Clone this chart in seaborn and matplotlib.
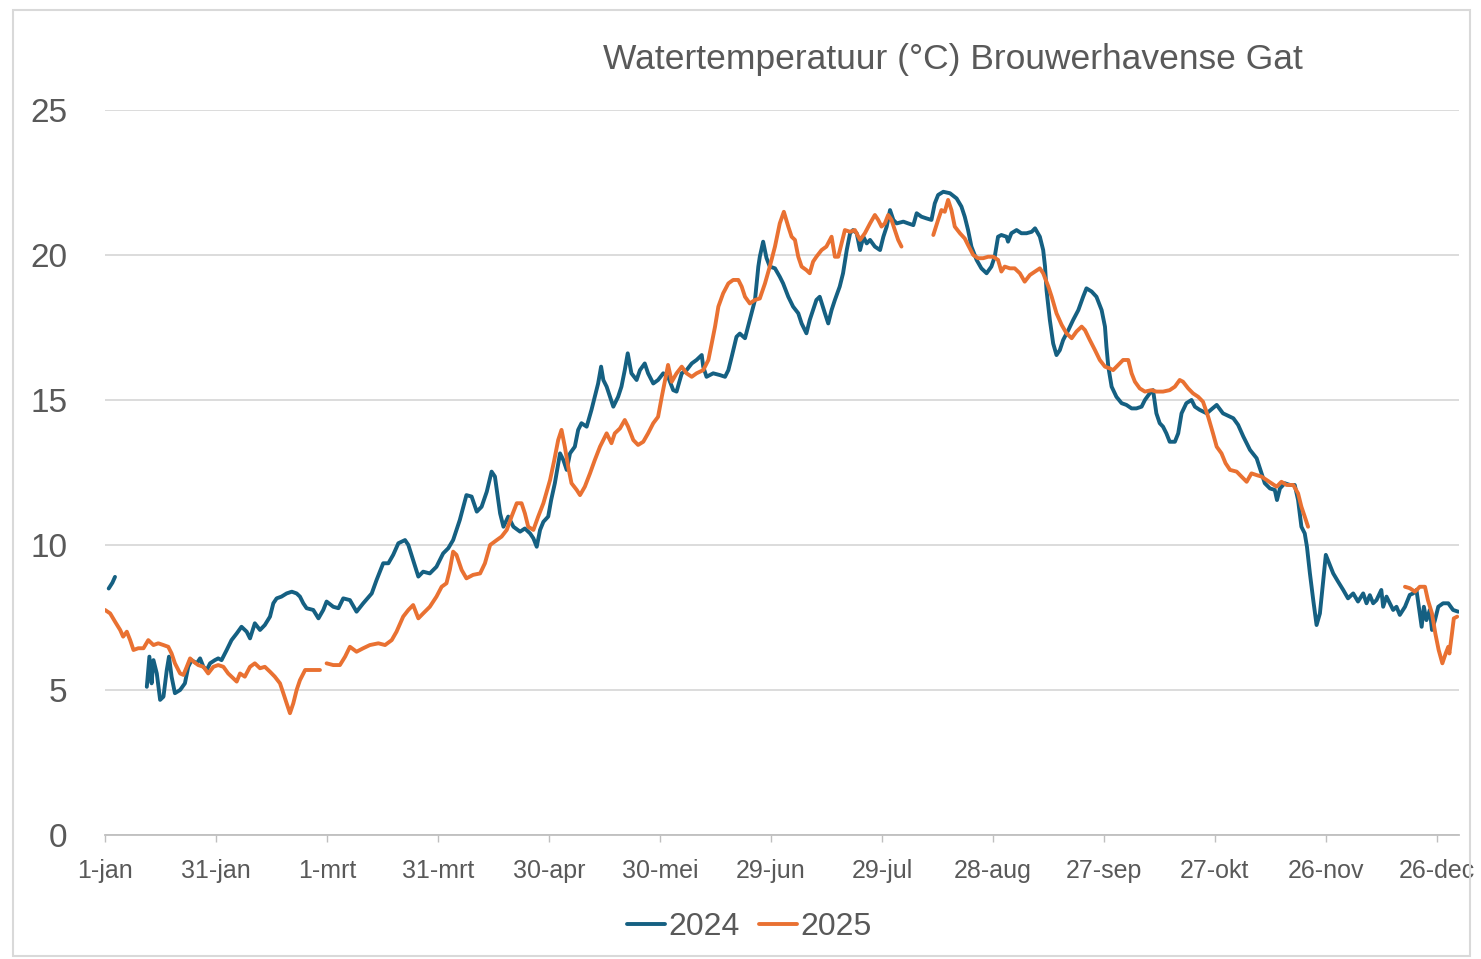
import numpy as np
import pandas as pd
import seaborn as sns
import matplotlib.pyplot as plt
from matplotlib.patches import Rectangle

nan = np.nan

# day of year (0 = 1-jan) and water temperature, nan = gap in the data
day_2024 = [1.0, 2.0, 2.7, nan,
            11.3, 12.0, 12.6, 13.1, 14.0, 14.9, 15.8, 16.7, 17.3, 18.0, 18.9, 20.3, 21.6, 22.5, 23.4, 24.8,
            25.7, 26.6, 27.5, 28.4, 29.7, 30.6, 31.5, 32.9, 34.2, 35.6, 36.9, 38.3, 39.2, 40.5, 41.9, 43.2,
            44.6, 45.5, 46.4, 47.7, 49.1, 50.5, 51.8, 52.7, 53.6, 54.5, 56.3, 57.7, 59.0, 59.9, 61.7, 63.1,
            64.4, 66.2, 68.0, 69.8, 72.1, 73.4, 75.2, 76.6, 77.9, 79.3, 81.1, 82.0, 83.3, 84.7, 86.0, 87.8,
            89.6, 91.4, 92.8, 94.1, 95.9, 97.7, 99.1, 100.5, 101.8, 103.2, 104.5, 105.4, 106.8, 107.7, 109.0,
            110.4, 112.2, 113.5, 114.9, 115.8, 116.7, 117.6, 118.5, 119.8, 120.6, 121.6, 123.0, 123.9, 124.8,
            125.7, 127.0, 127.9, 128.8, 130.2, 131.5, 132.4, 133.3, 134.1, 134.7, 135.6, 136.5, 137.4, 138.7,
            139.6, 140.5, 141.3, 142.3, 143.7, 144.6, 145.9, 146.8, 148.2, 149.5, 150.9, 152.2, 153.6, 154.5,
            155.9, 157.2, 158.6, 159.9, 161.3, 161.7, 162.6, 164.4, 166.2, 167.6, 168.5, 169.4, 170.7, 171.6,
            173.0, 174.3, 175.7, 176.6, 177.0, 177.9, 178.8, 179.7, 181.1, 182.4, 183.3, 184.7, 186.0, 187.4,
            188.3, 189.6, 190.5, 191.4, 192.3, 193.2, 194.6, 195.5, 196.4, 197.3, 198.6, 199.5, 200.5, 201.4,
            202.2, 203.2, 204.1, 205.0, 205.9, 206.8, 208.1, 209.5, 210.4, 211.3, 212.2, 213.1, 214.0, 215.8,
            217.1, 218.5, 219.4, 220.7, 222.1, 223.4, 224.3, 225.2, 226.6, 228.4, 230.2, 231.5, 232.4, 233.3,
            234.2, 235.6, 236.9, 238.3, 239.6, 240.5, 241.4, 242.3, 243.7, 244.1, 245.0, 246.4, 247.7, 249.1,
            250.5, 251.4, 252.7, 253.6, 254.1, 254.5, 255.4, 256.3, 257.2, 258.1, 259.0, 260.4, 261.7, 263.1,
            264.4, 265.3, 266.7, 268.0, 269.4, 270.3, 270.7, 271.2, 272.1, 273.4, 274.8, 276.1, 277.5, 278.8,
            280.2, 281.1, 282.4, 283.3, 284.2, 285.1, 286.0, 286.9, 287.8, 289.2, 290.1, 291.0, 292.3, 293.7,
            294.6, 295.9, 297.8, 300.5, 302.2, 305.0, 306.3, 307.7, 309.5, 311.3, 312.2, 313.5, 314.9, 316.2,
            316.8, 317.6, 318.9, 320.3, 321.6, 322.5, 323.4, 324.3, 324.9, 325.7, 326.6, 327.5, 328.4, 329.3,
            330.0, 331.1, 332.0, 333.3, 334.7, 336.0, 337.4, 338.7, 340.1, 341.0, 341.9, 342.8, 343.7, 345.0,
            345.5, 346.4, 347.3, 348.2, 349.1, 350.0, 351.4, 352.7, 353.6, 354.5, 355.4, 355.9, 356.5, 357.2,
            358.1, 358.7, 359.5, 360.4, 361.7, 363.1, 364.4, 365.8]
temp_2024 = [8.5, 8.7, 8.9, nan,
             5.11, 6.15, 5.23, 6.03, 5.57, 4.66, 4.77, 5.69, 6.15, 5.46, 4.89, 5.0, 5.23, 5.8, 6.03, 5.92,
             6.09, 5.8, 5.69, 5.92, 6.03, 6.09, 6.03, 6.38, 6.72, 6.95, 7.18, 7.01, 6.78, 7.3, 7.07, 7.24,
             7.53, 7.99, 8.16, 8.22, 8.33, 8.39, 8.33, 8.22, 7.99, 7.82, 7.76, 7.47, 7.76, 8.05, 7.87, 7.82,
             8.16, 8.1, 7.7, 7.99, 8.33, 8.79, 9.37, 9.37, 9.66, 10.06, 10.17, 10.0, 9.48, 8.91, 9.08, 9.02,
             9.25, 9.71, 9.89, 10.17, 10.86, 11.72, 11.67, 11.15, 11.32, 11.84, 12.53, 12.36, 11.09, 10.63, 10.98,
             10.63, 10.46, 10.57, 10.4, 10.23, 9.94, 10.52, 10.8, 10.98, 11.55, 12.13, 13.16, 12.93, 12.59,
             13.16, 13.39, 13.97, 14.2, 14.08, 14.66, 15.11, 15.57, 16.15, 15.69, 15.46, 15.11, 14.77, 15.11,
             15.46, 16.03, 16.61, 15.92, 15.69, 16.03, 16.26, 15.92, 15.57, 15.69, 15.92, 15.8, 15.34, 15.29,
             15.92, 16.03, 16.26, 16.38, 16.55, 16.15, 15.8, 15.92, 15.86, 15.8, 16.03, 16.49, 17.18, 17.29,
             17.13, 17.76, 18.45, 19.6, 19.94, 20.46, 19.9, 19.6, 19.54, 19.25, 19.02, 18.56, 18.22, 17.99,
             17.64, 17.3, 17.76, 18.1, 18.45, 18.56, 17.99, 17.64, 18.1, 18.45, 18.91, 19.37, 20.17, 20.75,
             20.86, 20.75, 20.17, 20.63, 20.4, 20.52, 20.29, 20.17, 20.63, 20.98, 21.55, 21.21, 21.09, 21.15,
             21.09, 21.03, 21.44, 21.32, 21.26, 21.21, 21.78, 22.07, 22.18, 22.13, 21.95, 21.67, 21.32, 20.86,
             20.29, 19.83, 19.54, 19.37, 19.6, 19.94, 20.63, 20.69, 20.63, 20.46, 20.75, 20.86, 20.75, 20.75,
             20.8, 20.92, 20.63, 20.17, 19.6, 18.79, 17.76, 16.95, 16.55, 16.72, 17.07, 17.41, 17.76, 18.1,
             18.56, 18.85, 18.74, 18.56, 18.1, 17.53, 16.84, 16.15, 15.46, 15.11, 14.89, 14.83, 14.71, 14.71,
             14.77, 15.0, 15.23, 15.34, 14.54, 14.2, 14.08, 13.85, 13.56, 13.56, 13.85, 14.54, 14.89, 15.0,
             14.77, 14.66, 14.54, 14.83, 14.54, 14.37, 14.14, 13.74, 13.28, 12.99, 12.64, 12.13, 11.95, 11.9,
             11.55, 11.95, 12.13, 12.07, 12.07, 11.55, 10.63, 10.4, 9.94, 9.02, 8.1, 7.24, 7.64, 8.79,
             9.66, 9.31, 9.02, 8.74, 8.45, 8.16, 8.33, 8.05, 8.33, 7.99, 8.27, 7.99, 8.1, 8.45,
             7.87, 8.22, 7.99, 7.76, 7.87, 7.59, 7.87, 8.28, 8.33, 8.45, 7.64, 7.18, 7.87, 7.41,
             7.76, 7.07, 7.41, 7.87, 7.99, 7.99, 7.76, 7.7]

day_2025 = [0.0, 1.4, 2.7, 4.1, 4.9, 5.9, 6.8, 7.7, 9.0, 10.4, 11.7, 13.1, 14.4, 15.8, 17.1, 18.0, 18.9,
            20.3, 21.2, 22.1, 23.0, 23.9, 25.2, 26.6, 27.9, 29.3, 30.6, 32.0, 33.3, 34.7, 35.6, 36.5, 37.8,
            39.2, 40.5, 41.9, 43.2, 44.6, 45.9, 47.3, 48.2, 49.1, 50.0, 50.9, 51.8, 52.7, 54.1, 55.4, 56.8,
            58.1, nan,
            59.9, 61.7, 63.5, 64.9, 66.2, 68.0, 69.8, 71.6, 73.9, 75.7, 77.5, 78.8, 80.6, 82.0, 83.3, 84.7,
            86.0, 87.8, 89.6, 91.0, 92.3, 93.2, 94.1, 95.0, 96.4, 97.7, 99.5, 101.4, 102.7, 104.1, 105.9,
            107.2, 108.6, 109.9, 111.3, 112.6, 113.5, 114.4, 115.8, 117.1, 118.5, 120.3, 121.4, 122.5, 123.4,
            124.3, 125.2, 126.1, 127.5, 128.4, 129.7, 131.1, 132.4, 133.8, 135.6, 136.9, 137.8, 139.2, 140.5,
            141.4, 142.8, 144.1, 145.5, 146.8, 148.2, 149.5, 150.5, 151.4, 152.2, 153.2, 154.5, 155.9, 157.2,
            158.6, 159.9, 161.7, 163.1, 164.0, 164.9, 165.8, 167.1, 168.5, 169.8, 171.2, 172.1, 173.0, 174.3,
            175.7, 177.0, 178.4, 179.7, 181.1, 182.4, 183.5, 184.7, 185.6, 186.5, 187.4, 188.3, 189.6, 190.5,
            191.4, 192.3, 193.7, 195.0, 196.4, 197.3, 198.2, 199.1, 200.0, 201.4, 202.7, 204.1, 205.4, 206.8,
            208.1, 209.0, 209.9, 210.8, 211.7, 212.6, 213.5, 214.4, 215.3, nan,
            223.9, 225.2, 226.1, 227.0, 227.9, 228.8, 229.7, 231.1, 232.4, 233.3, 234.7, 236.0, 237.4, 238.7,
            240.1, 241.4, 242.3, 243.2, 244.6, 245.9, 247.3, 248.6, 250.0, 251.4, 252.7, 253.6, 255.0, 255.9,
            257.2, 258.6, 259.9, 261.3, 262.6, 264.0, 264.9, 266.2, 267.6, 268.9, 270.3, 271.6, 272.5, 273.9,
            275.2, 276.6, 277.5, 278.4, 279.7, 281.1, 282.9, 284.2, 286.0, 287.8, 289.2, 290.5, 291.4, 292.8,
            294.1, 295.5, 296.8, 298.2, 299.5, 300.5, 301.8, 302.9, 304.1, 305.9, 307.2, 308.6, 309.9, 311.3,
            312.6, 314.0, 315.3, 316.7, 318.0, 319.4, 321.2, 322.5, 323.4, 324.3, 325.2, nan,
            351.4, 352.7, 354.1, 355.4, 356.8, 357.6, 358.7, 359.6, 360.5, 361.5, 362.4, 363.1, 363.4, 364.1,
            364.6, 365.5]
temp_2025 = [7.76, 7.64, 7.36, 7.07, 6.84, 7.01, 6.72, 6.38, 6.44, 6.44, 6.72, 6.55, 6.61, 6.55, 6.49, 6.26, 5.92,
             5.57, 5.52, 5.8, 6.09, 5.98, 5.86, 5.8, 5.57, 5.8, 5.86, 5.8, 5.57, 5.4, 5.29, 5.57, 5.46,
             5.8, 5.92, 5.75, 5.8, 5.63, 5.46, 5.23, 4.89, 4.54, 4.2, 4.54, 5.0, 5.34, 5.69, 5.69, 5.69,
             5.69, nan,
             5.92, 5.86, 5.86, 6.15, 6.49, 6.32, 6.44, 6.55, 6.61, 6.55, 6.72, 7.01, 7.53, 7.76, 7.93, 7.47,
             7.64, 7.87, 8.22, 8.56, 8.68, 9.14, 9.77, 9.66, 9.14, 8.85, 8.97, 9.02, 9.37, 10.0, 10.17,
             10.29, 10.52, 10.98, 11.44, 11.44, 11.09, 10.63, 10.52, 10.98, 11.44, 12.24, 12.9, 13.62, 13.97,
             13.39, 12.7, 12.13, 11.9, 11.72, 12.01, 12.47, 12.93, 13.39, 13.85, 13.51, 13.85, 14.02, 14.31,
             14.08, 13.62, 13.45, 13.56, 13.85, 14.2, 14.42, 15.11, 15.69, 16.21, 15.63, 15.92, 16.15, 15.92,
             15.8, 15.92, 16.03, 16.38, 16.95, 17.53, 18.22, 18.68, 19.02, 19.14, 19.14, 18.91, 18.56, 18.33,
             18.45, 18.5, 19.02, 19.6, 20.29, 21.09, 21.49, 20.98, 20.63, 20.52, 19.94, 19.6, 19.48, 19.37,
             19.77, 19.94, 20.17, 20.29, 20.63, 19.94, 19.94, 20.4, 20.86, 20.8, 20.86, 20.52, 20.75, 21.09,
             21.38, 21.21, 20.98, 21.09, 21.38, 21.21, 20.86, 20.52, 20.29, nan,
             20.69, 21.21, 21.55, 21.49, 21.9, 21.55, 20.98, 20.75, 20.57, 20.34, 20.0, 19.89, 19.89, 19.94,
             19.94, 19.83, 19.43, 19.6, 19.54, 19.54, 19.37, 19.08, 19.31, 19.43, 19.54, 19.37, 18.91, 18.56,
             17.99, 17.59, 17.3, 17.13, 17.36, 17.53, 17.41, 17.07, 16.72, 16.38, 16.15, 16.09, 16.03, 16.21,
             16.38, 16.38, 15.92, 15.63, 15.4, 15.29, 15.34, 15.29, 15.29, 15.34, 15.46, 15.69, 15.63, 15.4,
             15.23, 15.11, 14.94, 14.42, 13.85, 13.39, 13.16, 12.82, 12.59, 12.53, 12.36, 12.18, 12.47, 12.41,
             12.36, 12.24, 12.13, 12.01, 12.18, 12.07, 12.07, 11.78, 11.32, 10.98, 10.63, nan,
             8.56, 8.51, 8.39, 8.56, 8.56, 8.1, 7.64, 6.95, 6.38, 5.92, 6.26, 6.49, 6.26, 6.95,
             7.47, 7.53]

tick_days = [0, 30, 60, 90, 120, 150, 180, 210, 240, 270, 300, 330, 360]
tick_labels = ["1-jan", "31-jan", "1-mrt", "31-mrt", "30-apr", "30-mei", "29-jun",
               "29-jul", "28-aug", "27-sep", "27-okt", "26-nov", "26-dec"]
y_ticks = [0, 5, 10, 15, 20, 25]
colors = {"2024": "#156082", "2025": "#E97132"}


def to_frame(days, temps, year):
    df = pd.DataFrame({"dag": days, "temp": temps})
    # every nan starts a new line piece so the gaps stay open
    df["segment"] = df["temp"].isna().cumsum()
    df = df.dropna()
    df["jaar"] = year
    df["segment"] = year + "_" + df["segment"].astype(str)
    return df


df = pd.concat([to_frame(day_2024, temp_2024, "2024"),
                to_frame(day_2025, temp_2025, "2025")], ignore_index=True)

sns.set_theme(style="white")
plt.rcParams["font.family"] = ["Liberation Sans", "DejaVu Sans"]
grey_text = "#595959"

fig = plt.figure(figsize=(14.81, 9.59), dpi=100)
ax = fig.add_axes([105 / 1481, 1 - 835 / 959, (1459 - 105) / 1481, (835 - 110) / 959])

sns.lineplot(data=df, x="dag", y="temp", hue="jaar", units="segment", estimator=None,
             palette=colors, linewidth=2.8, sort=False, ax=ax)

ax.set_xlim(0, 366)
ax.set_ylim(0, 25)
ax.set_yticks(y_ticks)
ax.set_yticklabels([str(v) for v in y_ticks])
ax.set_xticks(tick_days)
ax.set_xticklabels(tick_labels)
ax.set_xlabel("")
ax.set_ylabel("")
ax.set_axisbelow(True)
ax.grid(axis="y", color="#D9D9D9", linewidth=1.3)
ax.grid(axis="x", visible=False)
for side in ["left", "right", "top"]:
    ax.spines[side].set_visible(False)
ax.spines["bottom"].set_color("#BFBFBF")
ax.spines["bottom"].set_linewidth(1.3)
ax.tick_params(axis="y", length=0, pad=27, labelsize=24, labelcolor=grey_text)
ax.tick_params(axis="x", length=5, width=1, color="#BFBFBF", direction="out", bottom=True,
               pad=12, labelsize=18, labelcolor=grey_text)

handles, labels = ax.get_legend_handles_labels()
ax.get_legend().remove()
fig.legend(handles, labels, loc="center", bbox_to_anchor=(749 / 1481, 1 - 927 / 959), ncol=2,
           frameon=False, fontsize=23, labelcolor=grey_text, handlelength=1.2,
           handletextpad=0.1, columnspacing=0.6)

fig.text(953 / 1481, 1 - 60 / 959, "Watertemperatuur (\u00b0C) Brouwerhavense Gat",
         ha="center", va="center", fontsize=25.5, color=grey_text)

fig.patches.append(Rectangle((13 / 1481, 3 / 959), (1470 - 13) / 1481, (949 - 3) / 959,
                             transform=fig.transFigure, fill=False, edgecolor="#D9D9D9", linewidth=1.5))

fig.savefig("out.png", dpi=100)
